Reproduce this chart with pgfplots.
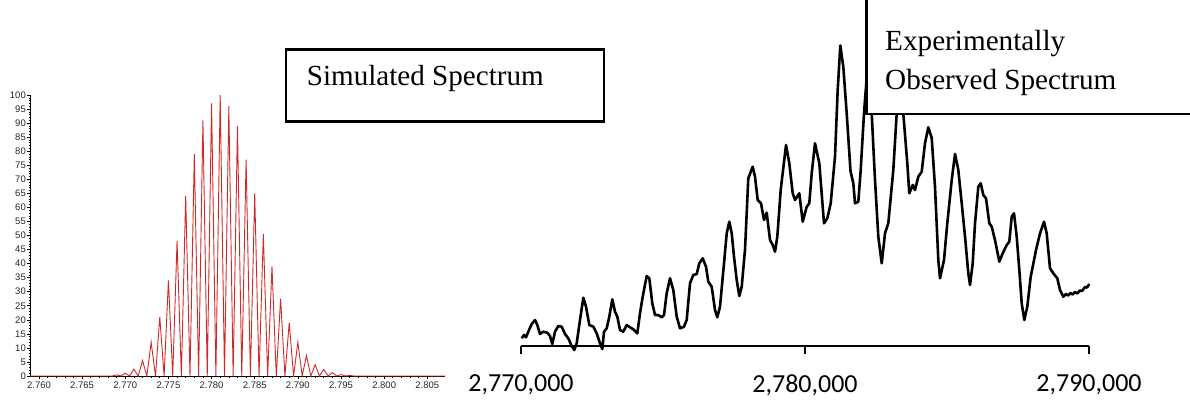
\documentclass[border=0pt]{standalone}
\usepackage{fontspec}
\setmainfont{Liberation Serif}
\newfontfamily\tickfont{Liberation Sans}
\newfontfamily\calfont{Carlito}
\usepackage{pgfplots}
\pgfplotsset{compat=1.18}
\definecolor{simred}{RGB}{210,40,40}

\begin{document}
\begin{tikzpicture}
\path[use as bounding box] (0pt,0pt) rectangle (1190pt,400pt);

% simulated isotope pattern (relative intensity, %)
\begin{axis}[
  at={(30pt,24pt)}, anchor=south west, scale only axis,
  width=415pt, height=281pt,
  xmin=2.75896, xmax=2.80705, ymin=0, ymax=100,
  axis lines=left, axis line style={-, line width=0.9pt},
  xtick={2.760,2.765,2.770,2.775,2.780,2.785,2.790,2.795,2.800,2.805},
  xticklabels={2.760,2.765,2.770,2.775,2.780,2.785,2.790,2.795,2.800,2.805},
  scaled x ticks=false,
  ytick={0,5,...,100},
  minor x tick num=4, minor y tick num=4,
  tick align=outside, major tick length=3pt, minor tick length=1.5pt,
  tick style={line width=0.6pt, black},
  tick label style={font=\tickfont\fontsize{9.5}{10}\selectfont, text=black!85},
  /pgf/number format/assume math mode=true,
  yticklabel style={inner sep=1pt},
  xticklabel style={inner sep=1.5pt, yshift=-1pt},
]
\addplot[simred, line width=0.9pt] coordinates {
(2.75896,0) (2.7685,0)
(2.769,0.4) (2.7695,0) (2.770,1.0) (2.7705,0) (2.771,2.5) (2.7715,0)
(2.772,5.5) (2.7725,0) (2.773,12) (2.7735,0) (2.774,21) (2.7745,0)
(2.775,34) (2.7755,0) (2.776,48) (2.7765,0) (2.777,64) (2.7775,0)
(2.778,79) (2.7785,0) (2.779,91) (2.7795,0) (2.780,97) (2.7805,0)
(2.781,100) (2.7815,0) (2.782,96) (2.7825,0) (2.783,89) (2.7835,0)
(2.784,77) (2.7845,0) (2.785,65) (2.7855,0) (2.786,50.5) (2.7865,0)
(2.787,39) (2.7875,0) (2.788,27.5) (2.7885,0) (2.789,19) (2.7895,0)
(2.790,12) (2.7905,0) (2.791,7.3) (2.7915,0) (2.792,4) (2.7925,0)
(2.793,2.3) (2.7935,0) (2.794,1.2) (2.7945,0) (2.795,0.5) (2.7955,0)
(2.796,0.2) (2.7965,0) (2.80705,0)
};
\end{axis}

% measured spectrum (arbitrary intensity)
\begin{axis}[
  at={(521pt,54pt)}, anchor=south west, scale only axis,
  width=568pt, height=346pt,
  xmin=2770000, xmax=2790000, ymin=0, ymax=346,
  axis x line=bottom, axis y line=none,
  axis line style={-, line width=1.8pt},
  xtick={2770000,2780000,2790000},
  xticklabels={{2,770,000},{2,780,000},{2,790,000}},
  scaled x ticks=false,
  ytick=\empty,
  tick align=outside, major tick length=8pt,
  tick style={line width=1.8pt, black},
  xticklabel style={font=\calfont\fontsize{26}{30}\selectfont, yshift=-17pt},
  clip=false,
]
\addplot[black, line width=2.6pt, line join=round] coordinates {
(2770025,7.7) (2770106,11) (2770176,8.7) (2770257,14.3) (2770377,22)
(2770493,26) (2770574,21) (2770669,12) (2770785,14.3) (2770926,13.3)
(2771021,10) (2771102,2) (2771197,14.3) (2771313,20) (2771433,19.3)
(2771549,12) (2771665,7.7) (2771785,0) (2771877,-4) (2771961,2.7)
(2772077,26) (2772194,48.3) (2772289,39.3) (2772405,21) (2772546,19.3)
(2772665,12.7) (2772782,2.7) (2772863,-3) (2772923,14.3) (2773018,17.7)
(2773109,29.3) (2773215,46.7) (2773310,34.3) (2773391,29.3) (2773486,16)
(2773602,14.3) (2773722,21) (2773838,18.7) (2773954,16.7) (2774095,12.7)
(2774190,32.7) (2774285,49.3) (2774426,70) (2774518,67.7) (2774623,42.7)
(2774718,31) (2774834,31) (2774954,28.7) (2775035,31) (2775130,52.7)
(2775246,67.7) (2775363,56) (2775482,29.3) (2775599,17.7) (2775739,19.3)
(2775834,26) (2775951,62.7) (2776067,71) (2776187,72) (2776278,82.7)
(2776398,87.7) (2776514,79.3) (2776595,64.3) (2776715,59.3) (2776831,36)
(2776912,28.7) (2777007,39.3) (2777148,82.7) (2777243,112.7) (2777335,124.3)
(2777419,112.7) (2777500,89.3) (2777595,66) (2777687,50) (2777771,59.3)
(2777887,96) (2778003,167.7) (2778158,179.3) (2778239,169.3) (2778334,146)
(2778451,142.7) (2778556,126) (2778651,133.3) (2778768,106) (2778863,101)
(2778944,94.3) (2779025,109.3) (2779144,156) (2779331,201) (2779447,182.7)
(2779567,152.7) (2779648,146) (2779799,152.7) (2779919,124.3) (2780060,139.3)
(2780151,142.7) (2780236,172.7) (2780352,202.7) (2780504,182.7) (2780669,122.7)
(2780785,127.7) (2780905,142.7) (2781056,189.3) (2781151,256) (2781243,300.5)
(2781348,279.3) (2781468,232.7) (2781602,175) (2781701,162.7) (2781760,142.7)
(2781877,144.3) (2781961,176) (2782077,232.7) (2782218,286) (2782348,232.7)
(2782465,166) (2782581,109.3) (2782701,82.7) (2782817,112.7) (2782933,122.7)
(2783109,176) (2783229,232.7) (2783345,261) (2783461,232.7) (2783602,182.7)
(2783672,152.7) (2783792,161) (2783873,156) (2783989,169.3) (2784109,174.3)
(2784225,202.7) (2784341,218.7) (2784461,208) (2784577,159.3) (2784694,86)
(2784753,67.7) (2784894,86) (2785010,122.7) (2785166,166) (2785282,192)
(2785398,176) (2785518,142.7) (2785634,109.3) (2785750,72.7) (2785810,61)
(2785905,82.7) (2785986,122.7) (2786102,159.3) (2786187,162.7) (2786278,151)
(2786373,147.7) (2786490,122.7) (2786574,119.3) (2786690,106) (2786842,84.3)
(2786961,92.7) (2787102,101) (2787194,104.3) (2787278,129.3) (2787359,132.7)
(2787454,109.3) (2787546,76) (2787630,42.7) (2787722,26) (2787827,39.3)
(2787947,69.3) (2788134,96) (2788275,112.7) (2788415,124.3) (2788510,112.7)
(2788627,77.7) (2788743,72.7) (2788884,67.7) (2788979,56) (2789095,49.3)
(2789190,52) (2789271,50.5) (2789349,53) (2789426,51.5) (2789507,54)
(2789588,52.5) (2789673,55.5) (2789754,55) (2789859,59) (2789930,58.5)
(2790011,62)
};
\end{axis}

% caption boxes
\draw[line width=2.5pt, fill=white] (286pt,350.7pt) rectangle (604pt,278.3pt);
\node[anchor=base west, inner sep=0pt, font=\fontsize{29.1}{34}\selectfont]
  at (306.7pt,315pt) {Simulated Spectrum};

\draw[line width=2.5pt, fill=white] (866.7pt,286pt) rectangle (1200pt,410pt);
\node[anchor=base west, inner sep=0pt, font=\fontsize{29.2}{34}\selectfont]
  at (885pt,349.3pt) {Experimentally};
\node[anchor=base west, inner sep=0pt, font=\fontsize{29.2}{34}\selectfont]
  at (885pt,310.7pt) {Observed Spectrum};
\end{tikzpicture}
\end{document}
